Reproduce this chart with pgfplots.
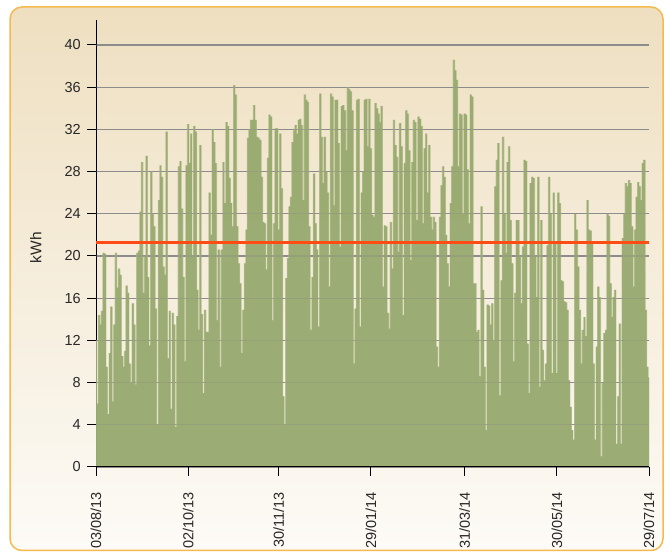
\documentclass[border=0pt]{standalone}
\usepackage{pgfplots}
\pgfplotsset{compat=1.18}
\usepackage{pgfplotstable}
\usepackage{fontspec}
\setmainfont{Liberation Sans}
\definecolor{barc}{RGB}{150,168,110}
\definecolor{barl}{RGB}{180,190,140}
\definecolor{avgc}{RGB}{255,75,20}
\definecolor{bgtop}{RGB}{238,223,192}
\definecolor{bgbot}{RGB}{253,251,247}
\definecolor{framec}{RGB}{245,185,80}
\definecolor{gridc}{RGB}{140,140,140}
\definecolor{txtc}{RGB}{40,40,40}

\pgfplotstableread[row sep=\\]{
kwh\\
12\\ 6\\ 14.4\\ 13.5\\ 14.8\\ 20.3\\ 20.2\\ 9.5\\ 5\\ 10.8\\
15.2\\ 6.2\\ 13.5\\ 20.3\\ 17\\ 18.8\\ 18.2\\ 10.5\\ 9.5\\ 11\\
17.2\\ 16.5\\ 9.8\\ 8\\ 15.5\\ 13.5\\ 7.8\\ 20.3\\ 20.5\\ 24.2\\
28.9\\ 16.5\\ 20\\ 29.5\\ 18\\ 11.5\\ 28\\ 24\\ 22.8\\ 15\\
4\\ 25.3\\ 28.6\\ 27.5\\ 19\\ 18.2\\ 31.8\\ 10.3\\ 14.8\\ 5.5\\
14.6\\ 13.5\\ 3.8\\ 14.3\\ 28.5\\ 29\\ 24.5\\ 18\\ 10\\ 28.6\\
32.5\\
28.8\\ 31.6\\ 20\\ 32.3\\ 31.8\\ 16.8\\ 13\\ 30.5\\ 14.5\\ 7\\
14.9\\ 12.8\\ 12.8\\ 26\\ 22\\ 32\\ 30.8\\ 28.8\\ 13.9\\ 20.6\\
9.5\\ 20.6\\ 28.9\\ 25\\ 32.7\\ 32.3\\ 27.4\\ 25\\ 22.8\\ 36.2\\
35.3\\ 22.8\\ 19.3\\ 17.4\\ 10.8\\ 14.9\\ 19.3\\ 22.5\\ 31.2\\ 32\\
32.9\\ 32.9\\ 34.3\\ 32.9\\ 31.3\\ 31.2\\ 31\\ 27.5\\ 23.2\\ 23.1\\
18.7\\ 29.3\\ 33.4\\ 33.2\\ 13.9\\ 23.1\\ 32.1\\ 32.1\\ 22.5\\ 31.6\\
26.4\\ 6.7\\ 4\\ 17.9\\ 19.8\\ 24.7\\ 25.6\\ 30.8\\ 31.9\\ 32.4\\
31.6\\ 32.9\\ 33\\ 32.4\\ 25.3\\ 35.3\\ 34.8\\ 34.6\\ 22.8\\ 13\\
18\\ 27.8\\ 23.1\\ 20.6\\ 13.3\\ 35.4\\ 31.3\\ 26.9\\ 31.3\\ 28\\
26\\ 17.1\\ 35.4\\ 35.1\\ 24.8\\ 34.8\\ 34.8\\ 30.7\\ 20.9\\ 34.2\\
34.3\\ 33.8\\ 30\\ 36\\ 35.8\\ 35.6\\ 33.8\\ 9.8\\ 15\\ 34.8\\
34.9\\ 13.3\\ 26\\ 28\\ 34.8\\ 34.9\\ 30.4\\ 34.9\\ 30.2\\
23.9\\ 23.7\\ 34.5\\ 34\\ 33.5\\ 32.7\\ 34.2\\ 17.1\\ 22.9\\ 22.8\\
14.6\\ 13.1\\ 23.2\\ 18.8\\ 32.9\\ 30.5\\ 29.4\\ 20.4\\ 32.6\\ 30.4\\
14.4\\ 28.8\\ 33.8\\ 33.5\\ 30\\ 19.6\\ 28.9\\ 32.9\\ 32.7\\ 23.4\\
33.2\\ 33\\ 32.3\\ 23.1\\ 30.2\\ 31.6\\ 26\\ 30.5\\ 23.7\\ 22.5\\
23.7\\ 23.2\\ 11.4\\ 9.5\\ 23.7\\ 26.7\\ 28.5\\ 27.5\\ 22\\ 19.3\\
17.1\\ 25\\ 28.5\\ 38.6\\ 37.6\\ 36.7\\ 28.5\\ 33.5\\ 33.4\\ 24\\
33.5\\ 33.4\\ 28.2\\ 23.1\\ 35.3\\ 35.1\\ 17.4\\ 17.4\\ 12.8\\ 13\\
8.6\\ 24.7\\ 16.8\\ 9.5\\ 3.5\\ 15.4\\ 15.3\\ 13.5\\ 15.5\\ 12\\
26.6\\ 29.1\\ 30.7\\ 6.8\\ 17.7\\ 31.3\\ 24\\ 20.3\\ 28.9\\ 30.4\\
23.4\\ 19.3\\ 10\\ 16.5\\ 23.4\\ 23.4\\ 20\\ 15.5\\ 20.9\\ 29.1\\
29\\ 11.7\\ 7\\ 26.9\\ 27.5\\ 27.4\\ 20\\ 16.1\\ 27.5\\ 7.6\\
23.4\\ 11.1\\ 8.2\\ 9.8\\ 21\\ 27.5\\ 24\\ 8.9\\ 26\\ 21.2\\
8.9\\ 26\\ 25\\ 17.7\\ 17.6\\ 15.7\\ 15.6\\ 14.9\\ 8.2\\ 5.7\\
3.5\\ 2.6\\ 24\\ 22.5\\ 19\\ 14.9\\ 9.8\\ 13\\ 14.2\\ 12.4\\
25.3\\ 22.5\\ 22.4\\ 21.2\\ 9.8\\ 2.6\\ 11.4\\ 17.1\\ 16.1\\ 1\\
8\\ 12.7\\ 13\\ 24\\ 23.8\\ 17.4\\ 14.2\\ 16.1\\ 16.8\\ 2.2\\
6.7\\ 13.6\\ 2.2\\ 21.7\\ 24\\ 26.9\\ 26.6\\ 27.2\\ 26.9\\ 22.8\\
17.1\\ 22.5\\ 25.6\\ 27\\ 26.6\\ 25.3\\ 28.8\\ 29.1\\ 14.9\\ 9.5\\
8.5\\
}\daily

\begin{document}
\begin{tikzpicture}[x=1pt,y=1pt]
\useasboundingbox (0,0) rectangle (670,552);
\fill[white] (0,0) rectangle (670,552);
\shade[top color=bgtop, bottom color=bgbot, rounded corners=12pt] (10,1.5) rectangle (663,545);
\draw[framec, line width=1.5pt, rounded corners=12pt] (10,1.5) rectangle (663,545);
\begin{axis}[
  at={(96pt,85pt)}, anchor=south west,
  scale only axis, width=553pt, height=447pt,
  xmin=0, xmax=360, ymin=0, ymax=42.37,
  separate axis lines,
  axis x line=bottom, axis y line=left,
  axis line style={-, black, line width=1pt},
  ymajorgrids, grid style={gridc, line width=1.2pt},
  ytick={0,4,...,40},
  xtick={0,60,119,179,240,300,360},
  xticklabels={03/08/13,02/10/13,30/11/13,29/01/14,31/03/14,30/05/14,29/07/14},
  tick align=outside, major tick length=9pt,
  tick style={black, line width=1pt},
  /pgf/number format/assume math mode=true,
  ticklabel style={font=\fontsize{14.5}{16}\selectfont, text=txtc, inner sep=0pt},
  xticklabel style={rotate=90, anchor=east},
  xticklabel shift=16pt,
  yticklabel style={anchor=east},
  yticklabel shift=6pt,
  ylabel={kWh},
  ylabel style={font=\fontsize{15.5}{17}\selectfont, text=txtc, at={(axis description cs:-0.109,0.491)}, anchor=center},
  clip=true,
]
% light halo of each daily bar
\addplot[ybar, bar width=1.6, bar shift=0pt, fill=barl, draw=none, fill opacity=0.85]
  table[x expr=\coordindex, y=kwh] {\daily};
% daily bars
\addplot[ybar, bar width=0.85, bar shift=0pt, fill=barc, draw=none, fill opacity=0.85]
  table[x expr=\coordindex, y=kwh] {\daily};
% grid lines showing through the bars
\pgfplotsinvokeforeach{4,8,...,40}{
  \draw[gridc, opacity=0.3, line width=1.2pt] (axis cs:0,#1) -- (axis cs:360,#1);
}
\addplot[avgc, line width=3pt] coordinates {(0,21.3) (360,21.3)};
\draw[black, line width=1pt] (axis cs:0,0) -- (axis cs:360,0);
\end{axis}
\end{tikzpicture}
\end{document}
